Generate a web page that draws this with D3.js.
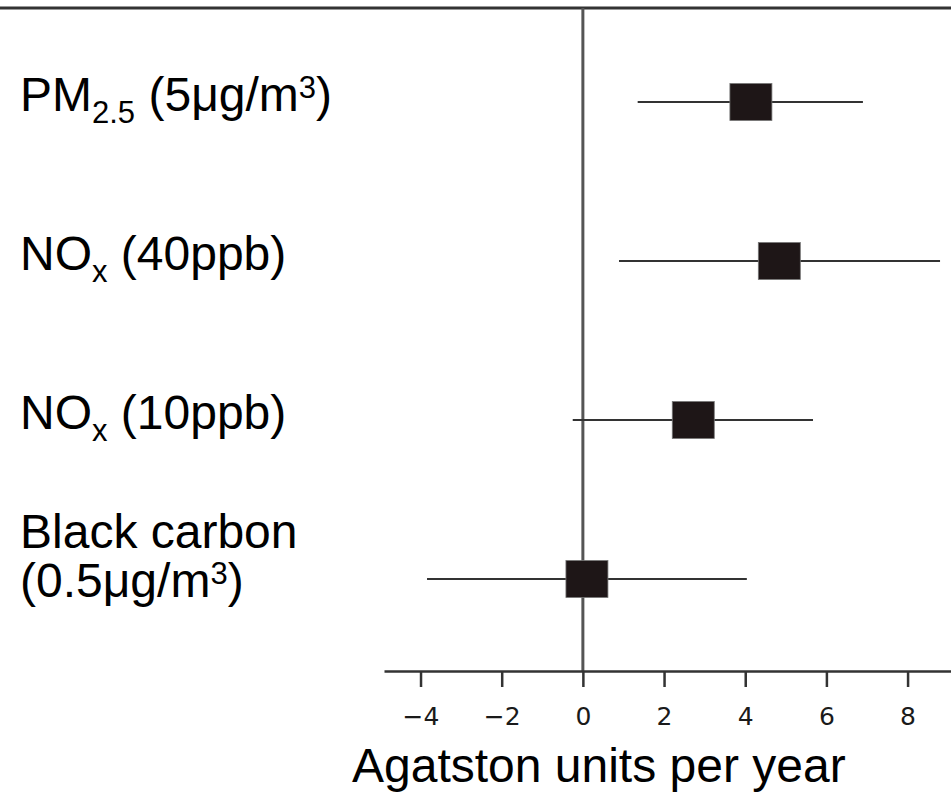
<!DOCTYPE html>
<html>
<head>
<meta charset="utf-8">
<script src="https://cdn.jsdelivr.net/npm/d3@7"></script>
<style>
  body { margin: 0; background: #fff; }
  svg { display: block; }
  .lbl { font-family: "Liberation Sans", Arial, sans-serif; font-size: 48px; fill: #000; }
</style>
</head>
<body>
<script>
// exposures (each label is a list of lines, each line a list of [text, kind])
const exposures = ["PM2.5", "NOx 40", "NOx 10", "Black carbon"];
const labelLines = [
  [[["PM", ""], ["2.5", "sub"], [" (5μg/m", ""], ["3", "sup"], [")", ""]]],
  [[["NO", ""], ["x", "sub"], [" (40ppb)", ""]]],
  [[["NO", ""], ["x", "sub"], [" (10ppb)", ""]]],
  [[["Black carbon", ""]], [["(0.5μg/m", ""], ["3", "sup"], [")", ""]]]
];
// change in Agatston units per year, with 95% CI
const estimate = [4.14, 4.84, 2.72, 0.10];
const lower = [1.35, 0.89, -0.25, -3.84];
const upper = [6.90, 8.80, 5.67, 4.04];
const xTicks = [-4, -2, 0, 2, 4, 6, 8];
const xTitle = "Agatston units per year";

const width = 951;
const height = 793;

const svg = d3.select('body')
  .append('svg')
  .attr('width', width)
  .attr('height', height);

const x = d3.scaleLinear().domain([-4.9, 9.07]).range([384, 951]);
const y = d3.scalePoint().domain(exposures).range([102, 579]);
const axisY = 671;
const topY = 8;

// top border line
svg.append('line')
  .attr('x1', 0).attr('x2', width)
  .attr('y1', topY).attr('y2', topY)
  .attr('stroke', '#333')
  .attr('stroke-width', 3);

// zero reference line
svg.append('line')
  .attr('x1', x(0)).attr('x2', x(0))
  .attr('y1', topY).attr('y2', axisY)
  .attr('stroke', '#555')
  .attr('stroke-width', 3);

// x axis
const xAxis = svg.append('g')
  .attr('transform', `translate(0,${axisY})`)
  .call(d3.axisBottom(x).tickValues(xTicks).tickSize(16).tickSizeOuter(0).tickPadding(20));
xAxis.select('.domain').attr('stroke', '#333').attr('stroke-width', 2.5);
xAxis.selectAll('.tick line').attr('stroke', '#333').attr('stroke-width', 2.5);
xAxis.selectAll('.tick text')
  .style('font-family', '"DejaVu Sans", Verdana, sans-serif')
  .style('font-size', '25px')
  .style('fill', '#1a1a1a');

// whiskers
const rows = exposures.map((e, i) => ({ e, i }));
svg.append('g').selectAll('line')
  .data(rows)
  .join('line')
  .attr('x1', d => x(lower[d.i]))
  .attr('x2', d => x(upper[d.i]))
  .attr('y1', d => y(d.e))
  .attr('y2', d => y(d.e))
  .attr('stroke', '#333')
  .attr('stroke-width', 2.2);

// point estimates
const boxW = 42;
const boxH = 37;
svg.append('g').selectAll('rect')
  .data(rows)
  .join('rect')
  .attr('x', d => x(estimate[d.i]) - boxW / 2)
  .attr('y', d => y(d.e) - boxH / 2)
  .attr('width', boxW)
  .attr('height', boxH)
  .attr('fill', '#1e1617')
  .attr('stroke', '#777')
  .attr('stroke-width', 0.8);

// row labels with sub / superscripts
const labels = svg.append('g');
rows.forEach(d => {
  const lines = labelLines[d.i];
  const base = y(d.e) + 9 - (lines.length - 1) * 40;
  lines.forEach((parts, li) => {
    const t = labels.append('text')
      .attr('class', 'lbl')
      .attr('x', 20)
      .attr('y', base + li * 49);
    let shift = 0;
    parts.forEach(([txt, kind]) => {
      const target = kind === 'sub' ? 12 : kind === 'sup' ? -13 : 0;
      t.append('tspan')
        .attr('dy', target - shift)
        .style('font-size', kind ? '31px' : null)
        .text(txt);
      shift = target;
    });
  });
});

// axis title
svg.append('text')
  .attr('class', 'lbl')
  .attr('x', 352)
  .attr('y', 782)
  .text(xTitle);
</script>
</body>
</html>
